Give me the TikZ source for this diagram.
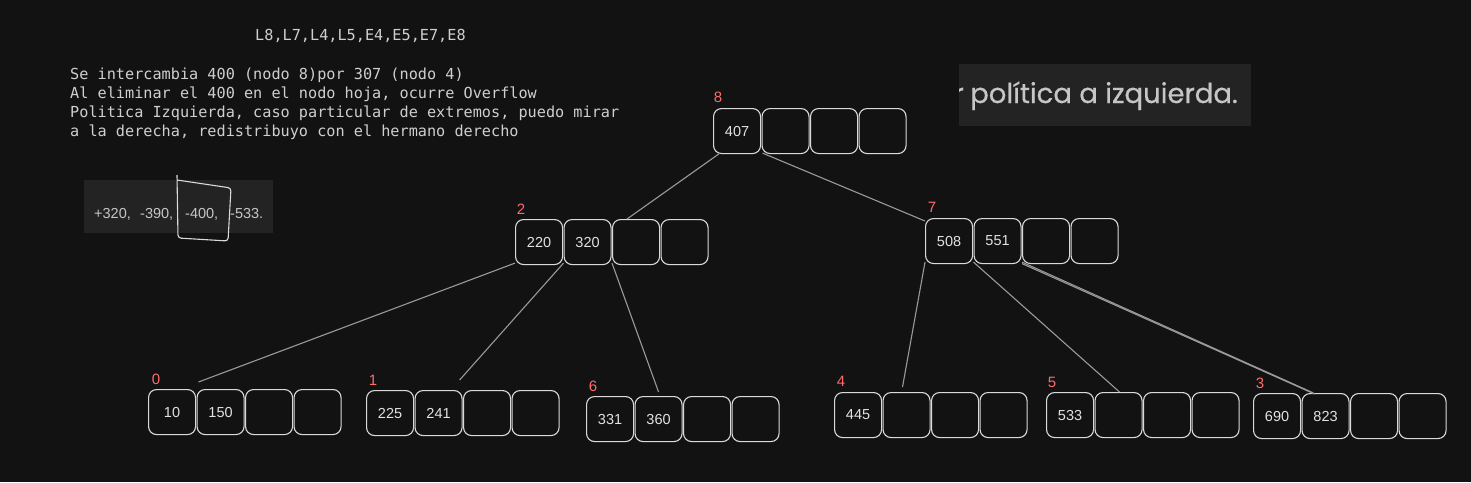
\documentclass[tikz,border=0pt]{standalone}
\usepackage{fontspec}
\setmainfont{Liberation Sans}
\newfontfamily\monof{DejaVu Sans Mono}
\newfontfamily\popf[FakeBold=0.6]{Poppins}
\definecolor{bg}{HTML}{121212}
\definecolor{cellc}{HTML}{DADADA}
\definecolor{celltext}{HTML}{E2E2E2}
\definecolor{edgec}{HTML}{9A9A9A}
\definecolor{monoc}{HTML}{CFCFCF}
\definecolor{lblc}{HTML}{FF6B6B}
\definecolor{clipbg}{HTML}{232323}
\definecolor{cliptext}{HTML}{C6C6C6}
\newcommand\bnode[7]{%
  \node[cell] (#1-1) at (#2,#3) {#4};
  \node[cell] (#1-2) at (#2+48.5,#3) {#5};
  \node[cell] (#1-3) at (#2+97,#3) {#6};
  \node[cell] (#1-4) at (#2+145.5,#3) {#7};
}
\begin{document}
\begin{tikzpicture}[x=1pt,y=-1pt,
  cell/.style={draw=cellc, line width=1.1pt, rounded corners=8pt,
    minimum width=47pt, minimum height=45pt, inner sep=0pt, anchor=north west,
    font=\fontsize{14.5}{14.5}\selectfont, text=celltext},
  lbl/.style={text=lblc, font=\fontsize{15}{15}\selectfont, inner sep=0pt},
  edge/.style={draw=edgec, line width=1.1pt},
  mono/.style={text=monoc, font=\monof\fontsize{15.2}{19}\selectfont, inner sep=0pt, anchor=base west},
  cliptxt/.style={text=cliptext, font=\fontsize{14.5}{14.5}\selectfont, inner sep=0pt, anchor=base west}]
\fill[bg] (0,0) rectangle (1471,482);
\useasboundingbox (0,0) rectangle (1471,482);

% text
\node[mono] (title) at (255,40) {L8,L7,L4,L5,E4,E5,E7,E8};
\node[mono] (t1) at (70,79) {Se intercambia 400 (nodo 8)por 307 (nodo 4)};
\node[mono] (t2) at (70,98) {Al eliminar el 400 en el nodo hoja, ocurre Overflow};
\node[mono] (t3) at (70,117) {Politica Izquierda, caso particular de extremos, puedo mirar};
\node[mono] (t4) at (70,136) {a la derecha, redistribuyo con el hermano derecho};

% clipped image 1
\fill[clipbg] (84,180) rectangle (273,233);
\node[cliptxt] (c1) at (94,218) {+320,};
\node[cliptxt] (c2) at (140,218) {-390,};
\node[cliptxt] (c3) at (185,218) {-400,};
\node[cliptxt] (c4) at (230,218) {-533.};
\draw[cellc, line width=1.1pt, rounded corners=3pt] (177,175) -- (178,238) -- (228,241) -- (231,188) -- (177,180);

% clipped image 2
\fill[clipbg] (959,64) rectangle (1251,126);
\begin{scope}
\clip (959,64) rectangle (1251,126);
\node[text=cliptext, font=\popf\fontsize{27.5}{27.5}\selectfont, inner sep=0pt, anchor=base east] (clipr) at (964,103) {r};
\node[text=cliptext, font=\popf\fontsize{27.5}{27.5}\selectfont, inner sep=0pt, anchor=base west] (clip2) at (970,103) {política a izquierda.};
\end{scope}

% nodes
\bnode{n8}{713}{108}{407}{}{}{}
\bnode{n2}{515}{219}{220}{320}{}{}
\bnode{n7}{925}{218}{508}{551}{}{}
\bnode{n0}{148}{389}{10}{150}{}{}
\bnode{n1}{366}{390}{225}{241}{}{}
\bnode{n6}{586}{396}{331}{360}{}{}
\bnode{n4}{834}{392}{445}{}{}{}
\bnode{n5}{1046}{392}{533}{}{}{}
\bnode{n3}{1253}{393}{690}{823}{}{}

% labels
\node[lbl] (l8) at (718,97) {8};
\node[lbl] (l2) at (521,209) {2};
\node[lbl] (l7) at (932,207) {7};
\node[lbl] (l0) at (156,379) {0};
\node[lbl] (l1) at (373,380) {1};
\node[lbl] (l6) at (593,386) {6};
\node[lbl] (l4) at (841,381) {4};
\node[lbl] (l5) at (1052,382) {5};
\node[lbl] (l3) at (1260,383) {3};

% edges
\draw[edge] ([xshift=7pt,yshift=1pt]n8-1.south west) -- ([xshift=15pt]n2-3.north west);
\draw[edge] ([xshift=1pt,yshift=1pt]n8-2.south west) -- ([yshift=-3pt]n7-1.north west);
\draw[edge] ([yshift=2pt]n2-1.south west) -- ([xshift=2pt,yshift=7pt]n0-2.north west);
\draw[edge] ([yshift=2pt]n2-2.south west) -- ([xshift=-3pt,yshift=10pt]n1-2.north east);
\draw[edge] ([yshift=2pt]n2-3.south west) -- ([yshift=4pt]n6-2.north);
\draw[edge] ([yshift=2pt]n7-1.south west) -- ([xshift=20pt,yshift=5pt]n4-2.north west);
\draw[edge] ([yshift=2pt]n7-2.south west) -- ([xshift=25pt]n5-2.north west);
\draw[edge] ([yshift=2pt]n7-3.south west) -- ([xshift=12pt]n3-2.north west);
\draw[edge] ([yshift=0.5pt]n7-3.south west) -- ([xshift=13pt,yshift=-1pt]n3-2.north west);
\end{tikzpicture}
\end{document}
